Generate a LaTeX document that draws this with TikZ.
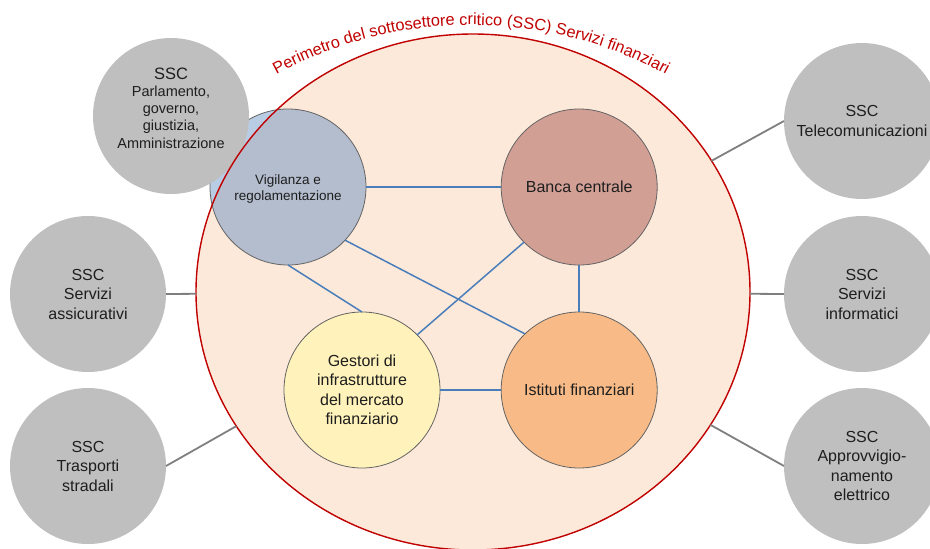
\documentclass[tikz,border=0pt]{standalone}
\usepackage{fontspec}
\setmainfont{Liberation Sans}
\usetikzlibrary{shapes.geometric,decorations.text}
\definecolor{peach}{RGB}{253,233,217}
\definecolor{titlered}{RGB}{192,0,0}
\definecolor{vigout}{RGB}{184,204,228}
\definecolor{vigin}{RGB}{180,189,206}
\definecolor{bancac}{RGB}{210,159,149}
\definecolor{gestc}{RGB}{255,242,187}
\definecolor{istc}{RGB}{248,187,135}
\definecolor{grayc}{RGB}{191,191,191}
\definecolor{glinec}{RGB}{127,127,127}
\definecolor{blinec}{RGB}{74,126,187}
\definecolor{bordc}{RGB}{100,100,100}
\definecolor{txtc}{RGB}{30,30,30}
\tikzset{
  x=1pt, y=-1pt,
  sscbox/.style={circle, fill=grayc, minimum size=156pt, inner sep=0pt, outer sep=0pt,
    align=center, text=txtc, font=\fontsize{16}{19.5}\selectfont},
  innerbox/.style={circle, minimum size=156pt, inner sep=0pt, outer sep=0pt,
    align=center, text=txtc, draw=bordc, line width=0.8pt, font=\fontsize{16}{19.5}\selectfont},
  gline/.style={draw=glinec, line width=1.8pt},
  bline/.style={draw=blinec, line width=1.5pt},
  bord/.style={draw=bordc, line width=0.8pt}
}
\begin{document}
\begin{tikzpicture}
\useasboundingbox (0,0) rectangle (930,549);
% Vigilanza circle, part outside the perimeter
\fill[vigout] (288,187) circle[radius=78];
\draw[bord] (288,187) circle[radius=78];
% Parlamento circle on top
\node[sscbox] (parl) at (171,116) {};
\node[align=center, text=txtc, inner sep=0pt, font=\fontsize{14.5}{17.3}\selectfont] (parltxt) at (171,108)
  {{\fontsize{16.5}{17.3}\selectfont SSC}\\ Parlamento,\\ governo,\\ giustizia,\\ Amministrazione};
% perimeter fill
\node[ellipse, minimum width=554pt, minimum height=516pt, inner sep=0pt, outer sep=0pt, fill=peach] (E) at (473,292) {};
% Vigilanza inside perimeter
\begin{scope}
  \clip (473,292) ellipse[x radius=277, y radius=258];
  \fill[vigin] (288,187) circle[radius=78];
  \draw[bord] (288,187) circle[radius=78];
\end{scope}
\draw[titlered, line width=1.4pt] (473,292) ellipse[x radius=277, y radius=258];
% title along arc
\path[decorate, decoration={text along path, text align=center,
  text={|\fontsize{16.3}{16}\selectfont\color{titlered}|Perimetro del sottosettore critico (SSC) Servizi finanziari}}]
  (275.1,75.1) arc[start angle=-118.7, end angle=-61.3, radius=408];
% inner nodes
\node[circle, minimum size=156pt, inner sep=0pt, outer sep=0pt] (vig) at (288,187) {};
\node[align=center, text=txtc, inner sep=0pt, font=\fontsize{13.5}{16}\selectfont] (vigtxt) at (288,189) {Vigilanza e\\regolamentazione};
\node[innerbox, fill=bancac] (banca) at (579.2,187) {Banca centrale};
\node[innerbox, fill=gestc] (ges) at (362,390) {Gestori di\\infrastrutture\\del mercato\\finanziario};
\node[innerbox, fill=istc] (ist) at (579.2,390) {Istituti finanziari};
% blue connectors
\draw[bline] (vig) -- (banca);
\draw[bline] (vig.-43) -- (ist.134);
\draw[bline] (vig.-90) -- (ges.90);
\draw[bline] (banca.-135) -- (ges.45);
\draw[bline] (banca) -- (ist);
\draw[bline] (ges) -- (ist);
% outer SSC nodes
\node[sscbox] (assic) at (88,294) {SSC\\Servizi\\assicurativi};
\node[sscbox] (trasp) at (88,466) {SSC\\Trasporti\\stradali};
\node[sscbox] (tele) at (862,121) {SSC\\Telecomunicazioni};
\node[sscbox] (info) at (862,294) {SSC\\Servizi\\informatici};
\node[sscbox] (elet) at (862,466) {SSC\\Approvvigio-\\namento\\elettrico};
% gray connectors
\draw[gline] (assic.east) -- (E);
\draw[gline] (trasp.east) -- (E);
\draw[gline] (tele.west) -- (E);
\draw[gline] (info.west) -- (E);
\draw[gline] (elet.west) -- (E);
\end{tikzpicture}
\end{document}
